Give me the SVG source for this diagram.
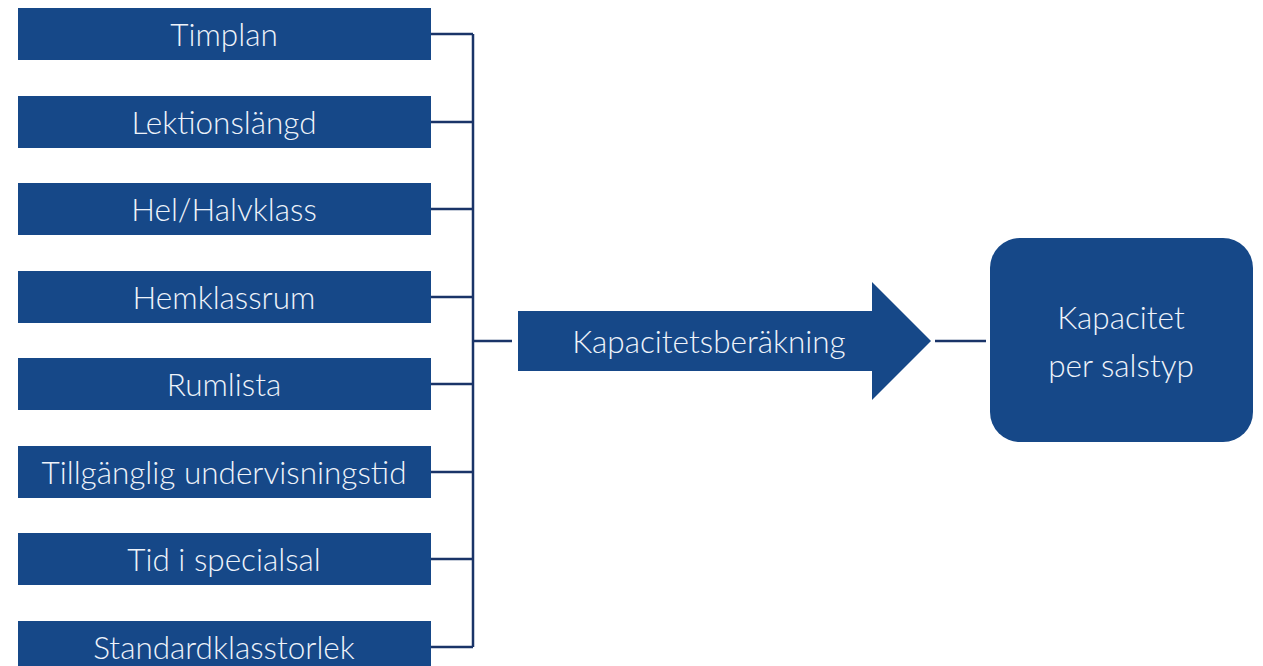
<svg xmlns="http://www.w3.org/2000/svg" width="1263" height="666" viewBox="0 0 1263 666">
<style>
.box{fill:#164888}
.t{font-family:Lato,"Open Sans","Liberation Sans",sans-serif;font-weight:300;font-size:31.5px;fill:#eef3fa;text-anchor:middle}
.c{stroke:#1a3468;stroke-width:2.5;fill:none}
</style>
<rect width="1263" height="666" fill="#ffffff"/>
<g id="timplan"><rect class="box" x="18" y="8" width="413" height="52"/><text class="t" x="224" y="46">Timplan</text></g>
<g id="lektionslangd"><rect class="box" x="18" y="96" width="413" height="52"/><text class="t" x="224" y="134">Lektionslängd</text></g>
<g id="helhalvklass"><rect class="box" x="18" y="183" width="413" height="52"/><text class="t" x="224" y="221">Hel/Halvklass</text></g>
<g id="hemklassrum"><rect class="box" x="18" y="271" width="413" height="52"/><text class="t" x="224" y="309">Hemklassrum</text></g>
<g id="rumlista"><rect class="box" x="18" y="358" width="413" height="52"/><text class="t" x="224" y="396">Rumlista</text></g>
<g id="tillganglig"><rect class="box" x="18" y="446" width="413" height="52"/><text class="t" x="224" y="484">Tillgänglig undervisningstid</text></g>
<g id="specialsal"><rect class="box" x="18" y="533" width="413" height="52"/><text class="t" x="224" y="571">Tid i specialsal</text></g>
<g id="standardklass"><rect class="box" x="18" y="621" width="413" height="52"/><text class="t" x="224" y="659">Standardklasstorlek</text></g>
<g id="connectors">
<path class="c" d="M431 34H473M431 122H473M431 209H473M431 297H473M431 384H473M431 472H473M431 559H473M431 647H473M473 34V647M473 341H512M935 341H986"/>
</g>
<g id="kapacitetsberakning">
<polygon class="box" points="518,311 872,311 872,282 931,341 872,400 872,371 518,371"/>
<text class="t" x="709" y="353">Kapacitetsberäkning</text>
</g>
<g id="kapacitet">
<rect class="box" x="990" y="238" width="263" height="204" rx="30" ry="30"/>
<text class="t" x="1121" y="329">Kapacitet</text>
<text class="t" x="1121" y="377">per salstyp</text>
</g>
</svg>
